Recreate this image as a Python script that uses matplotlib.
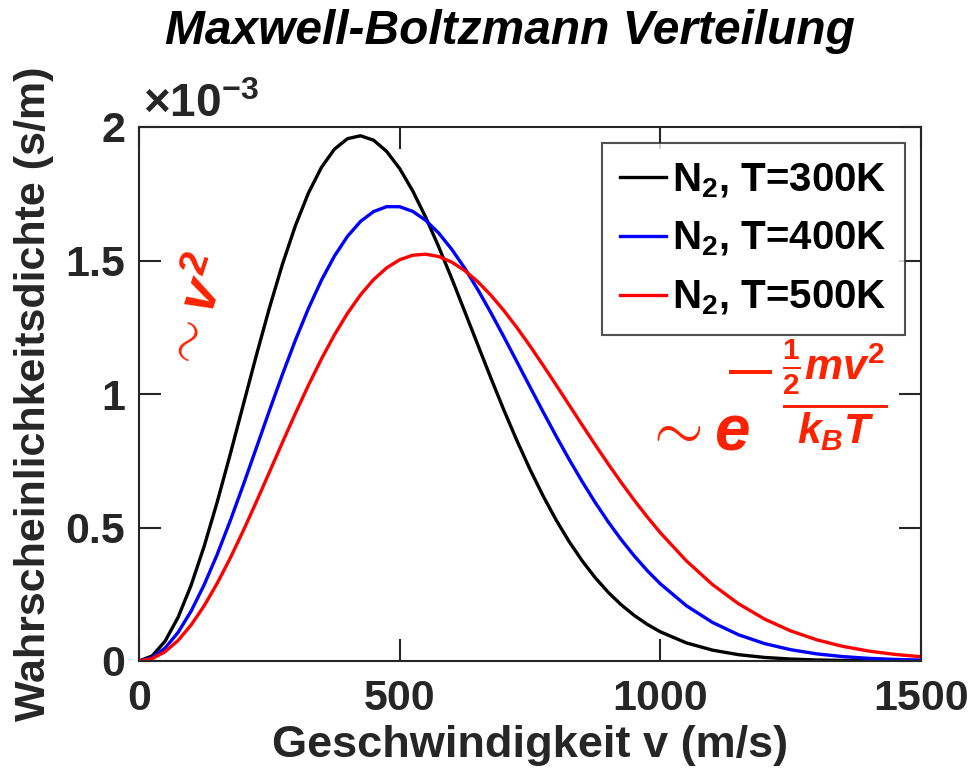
import matplotlib
matplotlib.use("Agg")
import matplotlib.pyplot as plt
from matplotlib.ticker import FuncFormatter

plt.rcParams['font.family'] = ['Liberation Sans', 'DejaVu Sans']
plt.rcParams['font.weight'] = 'bold'
plt.rcParams['mathtext.fontset'] = 'custom'
plt.rcParams['mathtext.rm'] = 'Liberation Sans:bold'
plt.rcParams['mathtext.bf'] = 'Liberation Sans:bold'
plt.rcParams['mathtext.it'] = 'Liberation Sans:bold:italic'

# speed values (m/s)
speed = [0, 25, 50, 75, 100, 125, 150, 175, 200, 225, 250, 275, 300, 325, 350, 375,
         400, 425, 450, 475, 500, 525, 550, 575, 600, 625, 650, 675, 700, 725, 750,
         775, 800, 825, 850, 875, 900, 925, 950, 975, 1000, 1050, 1100, 1150, 1200,
         1250, 1300, 1350, 1400, 1450, 1500]

# probability density in units of 1e-3 s/m
dens_300K = [0, 0.0187, 0.0740, 0.1637, 0.2839, 0.4298, 0.5955, 0.7744, 0.9595, 1.1441,
             1.3213, 1.4852, 1.6305, 1.7528, 1.8490, 1.9172, 1.9564, 1.9671, 1.9505,
             1.9086, 1.8443, 1.7608, 1.6617, 1.5508, 1.4319, 1.3081, 1.1834, 1.0596,
             0.9392, 0.8249, 0.7176, 0.6187, 0.5285, 0.4474, 0.3754, 0.3122, 0.2573,
             0.2104, 0.1706, 0.1372, 0.1093, 0.0678, 0.0407, 0.0237, 0.0133, 0.0073,
             0.0038, 0.0020, 0.0010, 0.0005, 0.0002]
dens_400K = [0, 0.0122, 0.0483, 0.1072, 0.1870, 0.2854, 0.3992, 0.5251, 0.6592, 0.7978,
             0.9369, 1.0727, 1.2016, 1.3204, 1.4263, 1.5170, 1.5908, 1.6464, 1.6833,
             1.7016, 1.7014, 1.6840, 1.6504, 1.6024, 1.5416, 1.4705, 1.3906, 1.3043,
             1.2135, 1.1204, 1.0266, 0.9336, 0.8428, 0.7553, 0.6722, 0.5939, 0.5212,
             0.4543, 0.3934, 0.3384, 0.2891, 0.2070, 0.1445, 0.0983, 0.0652, 0.0423,
             0.0267, 0.0165, 0.0099, 0.0059, 0.0034]
dens_500K = [0, 0.0087, 0.0346, 0.0770, 0.1350, 0.2069, 0.2911, 0.3855, 0.4879, 0.5958,
             0.7067, 0.8181, 0.9275, 1.0327, 1.1315, 1.2220, 1.3025, 1.3717, 1.4286,
             1.4724, 1.5028, 1.5198, 1.5236, 1.5148, 1.4938, 1.4620, 1.4203, 1.3698,
             1.3121, 1.2484, 1.1799, 1.1079, 1.0340, 0.9590, 0.8840, 0.8100, 0.7380,
             0.6686, 0.6021, 0.5393, 0.4804, 0.3750, 0.2864, 0.2143, 0.1570, 0.1128,
             0.0794, 0.0548, 0.0371, 0.0246, 0.0160]

labels = ['N$_2$, T=300K', 'N$_2$, T=400K', 'N$_2$, T=500K']
colors = ['#000000', '#0000ff', '#ff0000']
xticks = [0, 500, 1000, 1500]
yticks = [0, 0.5, 1, 1.5, 2]

W, H = 972, 776
fig = plt.figure(figsize=(W / 100, H / 100), dpi=100)
ax = fig.add_axes([139 / W, 1 - 661 / H, (921 - 139) / W, (661 - 127) / H])

for d, lab, c in zip([dens_300K, dens_400K, dens_500K], labels, colors):
    ax.plot(speed, d, color=c, lw=2.4, label=lab, solid_joinstyle='round')

ax.set_xlim(0, 1500)
ax.set_ylim(0, 2)
ax.set_xticks(xticks)
ax.set_yticks(yticks)
ax.yaxis.set_major_formatter(FuncFormatter(lambda v, p: f"{v:g}"))
ax.xaxis.set_major_formatter(FuncFormatter(lambda v, p: f"{v:g}"))

dark = '#262626'
for s in ax.spines.values():
    s.set_color(dark)
    s.set_linewidth(1.5)
ax.tick_params(direction='in', length=16, width=1.5, colors=dark, labelsize=31,
               top=True, right=True, pad=10)
ax.tick_params(axis='x', pad=13)
for t in ax.get_xticklabels() + ax.get_yticklabels():
    t.set_fontweight('bold')

ax.set_xlabel('Geschwindigkeit v (m/s)', fontsize=32.5, fontweight='bold', color=dark, labelpad=4)
ax.set_ylabel('Wahrscheinlichkeitsdichte (s/m)', fontsize=31, fontweight='bold', color=dark, labelpad=8)

fig.text(510 / W, 1 - 31 / H, 'Maxwell-Boltzmann Verteilung', fontsize=34.5,
         fontweight='bold', fontstyle='italic', ha='center', va='center', color='black')

fig.text(143 / W, 1 - 117 / H, r'$\times$10$^{\mathbf{-3}}$', fontsize=33, color=dark,
         ha='left', va='baseline')

leg = ax.legend(loc='upper right', bbox_to_anchor=(905 / W, 1 - 143 / H),
                bbox_transform=fig.transFigure, fontsize=29, frameon=True,
                fancybox=False, handlelength=1.15, handletextpad=0.15,
                borderpad=0.45, labelspacing=0.5, borderaxespad=0)
leg.get_frame().set_edgecolor(dark)
leg.get_frame().set_linewidth(1.5)
for t in leg.get_texts():
    t.set_color('black')

red = '#ff2200'
fig.text(198 / W, 1 - 315 / H, r'$\sim v^2$', fontsize=40, color=red, rotation=72,
         ha='center', va='center')
fig.text(642 / W, 1 - 432 / H, r'$\sim e$', fontsize=46, color=red,
         ha='left', va='center')
fig.text(750 / W, 1 - 372 / H, '\u2014', fontsize=31, color=red,
         ha='center', va='center')
fig.text(835 / W, 1 - 395 / H, r'$\frac{\frac{1}{2}mv^2}{k_BT}$', fontsize=44,
         color=red, ha='center', va='center')

fig.savefig('out.png', dpi=100)
